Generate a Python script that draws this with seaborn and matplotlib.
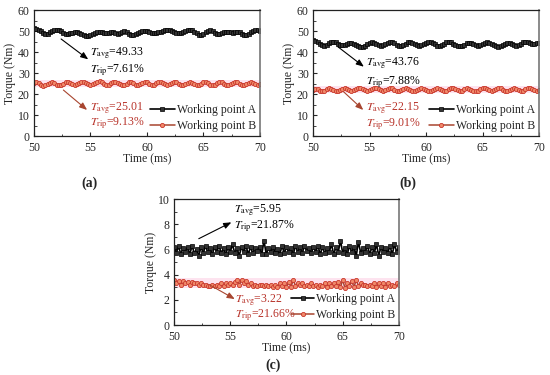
import numpy as np
import matplotlib
matplotlib.use("Agg")
import matplotlib.pyplot as plt
import seaborn as sns
from matplotlib.ticker import MultipleLocator

sns.set_style("ticks")
plt.rcParams['font.family'] = ['Liberation Serif', 'DejaVu Serif']
plt.rcParams['mathtext.fontset'] = 'stix'
plt.rcParams['xtick.direction'] = 'in'
plt.rcParams['ytick.direction'] = 'in'

time_ms = np.round(np.arange(50.0, 70.0001, 0.2), 1)

a_A = [51.2, 50.8, 50.5, 49.8, 49.0, 48.6, 48.8, 49.3, 49.9, 50.4,
       50.6, 50.3, 49.8, 49.2, 48.7, 48.6, 48.9, 49.2, 49.4, 49.3,
       49.0, 48.6, 48.1, 47.7, 47.6, 47.9, 48.5, 49.1, 49.5, 49.6,
       49.3, 49.0, 48.9, 49.2, 49.6, 49.4, 49.0, 48.8, 49.1, 49.6,
       49.8, 49.4, 48.8, 48.3, 48.1, 48.4, 49.0, 49.6, 49.9, 50.0,
       49.8, 49.5, 49.2, 49.0, 49.1, 49.3, 49.6, 50.0, 50.4, 50.6,
       50.4, 50.0, 49.5, 49.1, 48.9, 49.1, 49.5, 50.0, 50.4, 50.6,
       50.3, 49.6, 48.9, 48.3, 48.1, 48.5, 49.3, 50.1, 50.5, 50.0,
       49.2, 48.6, 48.5, 48.9, 49.4, 49.6, 49.5, 49.3, 49.2, 49.4,
       49.6, 49.3, 48.7, 48.2, 48.1, 48.6, 49.4, 50.1, 50.5, 50.3,
       49.9]
a_B = [25.2, 25.6, 25.1, 24.4, 23.9, 24.2, 24.9, 25.4, 25.6, 25.1,
       24.5, 24.1, 24.3, 25.0, 25.6, 25.8, 25.3, 24.6, 24.3, 24.6,
       25.2, 25.7, 25.9, 25.4, 24.8, 24.4, 24.7, 25.3, 25.8, 26.0,
       25.5, 24.8, 24.3, 24.5, 25.1, 25.6, 25.7, 25.2, 24.6, 24.2,
       24.4, 25.0, 25.5, 25.6, 25.1, 24.5, 24.3, 24.7, 25.3, 25.7,
       25.5, 24.9, 24.4, 24.5, 25.1, 25.6, 25.8, 25.3, 24.7, 24.4,
       24.7, 25.3, 25.7, 25.5, 24.9, 24.3, 24.1, 24.6, 25.2, 25.6,
       25.4, 24.8, 24.3, 24.4, 25.0, 25.5, 25.6, 25.1, 24.5, 24.2,
       24.5, 25.1, 25.6, 25.5, 25.0, 24.5, 24.3, 24.7, 25.3, 25.7,
       25.5, 24.9, 24.4, 24.3, 24.8, 25.4, 25.7, 25.3, 24.7, 24.4,
       24.6]
b_A = [45.6, 45.3, 44.6, 43.8, 43.2, 43.1, 43.5, 44.2, 44.8, 45.0,
       44.7, 44.0, 43.4, 43.2, 43.4, 43.8, 44.2, 44.3, 44.0, 43.5,
       43.0, 42.6, 42.6, 43.1, 43.8, 44.4, 44.7, 44.5, 43.9, 43.3,
       43.0, 43.2, 43.8, 44.5, 44.9, 44.8, 44.2, 43.5, 43.0, 42.9,
       43.3, 44.0, 44.6, 44.8, 44.5, 43.9, 43.3, 43.0, 43.2, 43.8,
       44.4, 44.8, 44.7, 44.2, 43.6, 43.1, 43.0, 43.4, 44.0, 44.6,
       44.9, 44.6, 44.0, 43.4, 42.9, 42.7, 42.9, 43.5, 44.1, 44.5,
       44.4, 43.9, 43.3, 43.0, 43.2, 43.7, 44.3, 44.6, 44.4, 43.8,
       43.2, 42.7, 42.5, 42.8, 43.4, 44.0, 44.4, 44.3, 43.8, 43.3,
       43.1, 43.4, 44.0, 44.6, 44.9, 44.7, 44.2, 43.8, 43.9, 44.3,
       44.1]
b_B = [22.0, 22.6, 22.3, 21.6, 21.2, 21.5, 22.2, 22.7, 22.5, 21.8,
       21.3, 21.4, 22.0, 22.6, 22.9, 22.5, 21.9, 21.5, 21.7, 22.3,
       22.8, 22.9, 22.4, 21.8, 21.5, 21.8, 22.4, 22.9, 23.0, 22.5,
       21.9, 21.5, 21.7, 22.3, 22.8, 22.7, 22.1, 21.6, 21.4, 21.8,
       22.4, 22.8, 22.6, 22.0, 21.5, 21.4, 21.9, 22.5, 22.8, 22.5,
       21.9, 21.4, 21.5, 22.1, 22.6, 22.8, 22.4, 21.8, 21.4, 21.6,
       22.2, 22.7, 22.9, 22.5, 21.9, 21.5, 21.6, 22.2, 22.7, 22.6,
       22.0, 21.4, 21.2, 21.6, 22.2, 22.7, 22.8, 22.3, 21.7, 21.4,
       21.7, 22.3, 22.8, 22.7, 22.1, 21.6, 21.5, 21.9, 22.5, 22.9,
       22.6, 22.0, 21.5, 21.6, 22.2, 22.7, 22.8, 22.4, 21.8, 21.5,
       21.7]
c_A = [6.2, 5.7, 6.3, 5.6, 6.1, 5.8, 6.2, 5.6, 6.3, 5.7,
       6.0, 5.5, 6.2, 5.7, 6.3, 5.8, 6.1, 5.6, 6.2, 5.8,
       6.3, 5.7, 6.1, 5.6, 6.2, 5.8, 6.4, 5.7, 6.1, 5.5,
       6.2, 5.8, 6.3, 5.6, 6.2, 5.7, 6.1, 5.9, 6.2, 5.6,
       6.7, 5.6, 6.1, 5.8, 6.2, 5.7, 6.0, 5.6, 6.3, 5.7,
       6.2, 5.8, 6.1, 5.6, 6.3, 5.8, 6.2, 5.7, 6.3, 5.9,
       6.1, 5.7, 6.2, 5.8, 6.3, 5.6, 6.2, 5.7, 6.1, 5.8,
       6.4, 5.6, 6.2, 5.8, 6.7, 5.7, 6.1, 5.6, 6.3, 5.8,
       6.2, 5.5, 6.6, 5.7, 6.1, 5.8, 6.3, 5.6, 6.2, 5.7,
       6.4, 5.5, 6.2, 5.8, 6.1, 5.7, 6.3, 5.6, 6.4, 5.8,
       6.2]
c_B = [3.6, 3.3, 3.5, 3.2, 3.5, 3.3, 3.4, 3.2, 3.4, 3.3,
       3.3, 3.2, 3.3, 3.2, 3.2, 3.1, 3.1, 3.2, 3.1, 3.2,
       3.1, 3.3, 3.1, 3.3, 3.2, 3.3, 3.2, 3.4, 3.6, 3.2,
       3.6, 3.3, 3.5, 3.2, 3.3, 3.1, 3.2, 3.1, 3.2, 3.2,
       3.1, 3.2, 3.1, 3.2, 3.0, 3.2, 3.0, 3.3, 3.1, 3.3,
       3.0, 3.4, 3.0, 3.6, 3.1, 3.3, 3.2, 3.3, 3.1, 3.2,
       3.1, 3.3, 3.1, 3.2, 3.0, 3.2, 3.1, 3.3, 3.0, 3.3,
       3.1, 3.3, 3.1, 3.4, 3.0, 3.6, 2.9, 3.3, 3.1, 3.5,
       3.0, 3.6, 3.1, 3.3, 3.2, 3.2, 3.1, 3.2, 3.1, 3.3,
       3.0, 3.3, 3.1, 3.3, 3.0, 3.3, 3.1, 3.2, 3.1, 3.3,
       3.2]

t_avg = {"a": ("49.33", "25.01"), "b": ("43.76", "22.15"), "c": ("5.95", "3.22")}
t_rip = {"a": ("7.61%", "9.13%"), "b": ("7.88%", "9.01%"), "c": ("21.87%", "21.66%")}
series_names = ["Working point A", "Working point B"]
panel_labels = ["(a)", "(b)", "(c)"]

RED = "#c8372d"
TXT_RED = "#b8332a"
LINE_B = "#a8452f"
FS = 8.5

fig = plt.figure(figsize=(5.5, 3.75), dpi=100)
W = 0.4109
H = 0.336
axa = fig.add_axes([0.0618, 0.6373, W, H])
axb = fig.add_axes([0.5691, 0.6373, W, H])
axc = fig.add_axes([0.3164, 0.1333, 0.409, H])

panels = [
    (axa, "a", a_A, a_B, 60, 10, 5, (23.2, 26.8),
     dict(arr_A=((52.4, 46.2), (54.8, 36.5)), txt_A=(55.0, 39.5, 31.4),
          arr_B=((52.6, 21.9), (54.7, 12.4)), txt_B=(55.0, 13.3, 6.2))),
    (axb, "b", b_A, b_B, 60, 10, 5, (20.3, 23.9),
     dict(arr_A=((52.2, 42.5), (54.5, 33.0)), txt_A=(54.7, 34.8, 25.7),
          arr_B=((52.7, 21.1), (54.45, 12.4)), txt_B=(54.7, 13.3, 5.7))),
    (axc, "c", c_A, c_B, 10, 2, 1, (2.95, 3.75),
     dict(arr_A=((52.2, 6.85), (55.1, 8.15)), txt_A=(55.3, 9.1, 7.8),
          arr_B=((53.2, 3.17), (55.4, 2.06)), txt_B=(55.4, 2.0, 0.8))),
]

for ax, key, yA, yB, ymax, major, minor, band, ann in panels:
    ax.axhspan(band[0], band[1], color="#fde3ef", zorder=0, lw=0)
    sns.lineplot(x=time_ms, y=yA, ax=ax, color="black", lw=1.2, marker="s",
                 markersize=3.0, markeredgecolor="black", markerfacecolor="#333333",
                 markeredgewidth=0.5, label=series_names[0])
    sns.lineplot(x=time_ms, y=yB, ax=ax, color=LINE_B, lw=1.1, marker="o",
                 markersize=3.0, markeredgecolor=RED, markerfacecolor="#f08a6a",
                 markeredgewidth=0.6, label=series_names[1])
    ax.set_xlim(50, 70)
    ax.set_ylim(0, ymax)
    ax.xaxis.set_major_locator(MultipleLocator(5))
    ax.xaxis.set_minor_locator(MultipleLocator(2.5))
    ax.yaxis.set_major_locator(MultipleLocator(major))
    ax.yaxis.set_minor_locator(MultipleLocator(minor))
    ax.tick_params(axis="x", which="major", pad=4)
    ax.tick_params(axis="y", which="major", pad=3)
    ax.tick_params(which="major", length=3, width=0.8, labelsize=FS, top=False, right=False)
    ax.tick_params(which="minor", length=1.8, width=0.6, top=False, right=False)
    for s in ax.spines.values():
        s.set_visible(True)
        s.set_linewidth(0.9)
        s.set_color("#222222")
    ax.spines["right"].set_color("#777777")
    ax.spines["right"].set_linewidth(1.2)
    ax.set_xlabel("Time (ms)", fontsize=FS, labelpad=0)
    ax.set_ylabel("Torque (Nm)", fontsize=FS, labelpad=1)

    (sA, eA) = ann["arr_A"]
    ax.annotate("", xy=eA, xytext=sA,
                arrowprops=dict(arrowstyle="-|>,head_length=0.45,head_width=0.18",
                                color="black", lw=0.8, shrinkA=0, shrinkB=0))
    tx, y1, y2 = ann["txt_A"]
    ax.text(tx, y1, r"$T_{\mathrm{avg}}$=" + t_avg[key][0], fontsize=FS, va="center", ha="left", color="black")
    ax.text(tx, y2, r"$T_{\mathrm{rip}}$=" + t_rip[key][0], fontsize=FS, va="center", ha="left", color="black")

    (sB, eB) = ann["arr_B"]
    ax.annotate("", xy=eB, xytext=sB,
                arrowprops=dict(arrowstyle="-|>,head_length=0.45,head_width=0.18",
                                color=LINE_B, lw=0.8, shrinkA=0, shrinkB=0))
    tx, y1, y2 = ann["txt_B"]
    ax.text(tx, y1, r"$T_{\mathrm{avg}}$=" + t_avg[key][1], fontsize=FS, va="center", ha="left", color=TXT_RED)
    ax.text(tx, y2, r"$T_{\mathrm{rip}}$=" + t_rip[key][1], fontsize=FS, va="center", ha="left", color=TXT_RED)

    ax.legend(loc="lower right", frameon=False, fontsize=FS,
              handlelength=(1.9 if key == "c" else 2.1),
              handletextpad=0.15, borderaxespad=0.1, labelspacing=0.3,
              borderpad=0.25, numpoints=1)

fig.text(89 / 550, 1 - 183 / 375, panel_labels[0], ha="center", va="center", fontsize=10, fontweight="bold")
fig.text(408 / 550, 1 - 183 / 375, panel_labels[1], ha="center", va="center", fontsize=10, fontweight="bold")
fig.text(273 / 550, 1 - 365 / 375, panel_labels[2], ha="center", va="center", fontsize=10, fontweight="bold")

fig.savefig("out.png", dpi=100)
